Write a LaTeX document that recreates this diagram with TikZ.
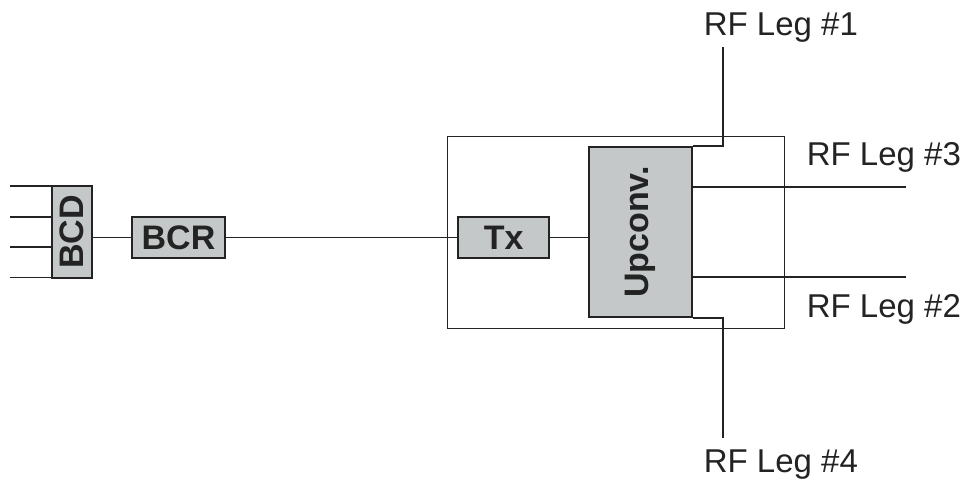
\documentclass[tikz,border=0pt]{standalone}
\usepackage{fontspec}
\setmainfont{Liberation Sans}
\definecolor{boxgray}{RGB}{196,200,200}
\definecolor{ink}{RGB}{35,35,35}
\begin{document}
\begin{tikzpicture}[x=1pt,y=-1pt,line width=1.7pt,draw=ink,
  blk/.style={draw=ink,fill=boxgray,inner sep=0pt,font=\fontsize{34}{40}\selectfont\bfseries,text=ink},
  lbl/.style={inner sep=0pt,anchor=base west,font=\fontsize{33}{38}\selectfont,text=ink}]
\useasboundingbox (0,0) rectangle (969,488);
\node[draw=ink,line width=1.3pt,minimum width=337pt,minimum height=191.6pt] (unit) at (615.8,232.5) {};
\node[blk,minimum width=40pt,minimum height=91.7pt] (bcd) at (72,231.8) {\rotatebox{90}{BCD}};
\node[blk,minimum width=93pt,minimum height=41pt] (bcr) at (178.5,237.5) {BCR};
\node[blk,minimum width=91pt,minimum height=40.4pt] (tx) at (503.8,237.5) {Tx};
\node[blk,minimum width=103pt,minimum height=170.6pt] (up) at (640.8,232) {\rotatebox{90}{Upconv.}};
\coordinate (in1) at (10,186);
\coordinate (in2) at (10,216.7);
\coordinate (in3) at (10,247);
\coordinate (in4) at (10,277.6);
\coordinate (leg1) at (722.7,46.7);
\coordinate (leg3) at (906,186.7);
\coordinate (leg2) at (906,277);
\coordinate (leg4) at (722.7,438.3);
\draw (in1) -- (in1 -| bcd.west);
\draw (in2) -- (in2 -| bcd.west);
\draw (in3) -- (in3 -| bcd.west);
\draw (in4) -- (in4 -| bcd.west);
\draw (bcd.east |- bcr.west) -- (bcr.west);
\draw (bcr.east) -- (tx.west);
\draw (tx.east) -- (tx.east -| up.west);
\draw (up.north east) -| (leg1);
\draw (leg3 -| up.east) -- (leg3);
\draw (leg2 -| up.east) -- (leg2);
\draw (up.south east) -| (leg4);
\node[lbl] (l1) at (703,35) {RF Leg \#1};
\node[lbl] (l3) at (806,165) {RF Leg \#3};
\node[lbl] (l2) at (806,317) {RF Leg \#2};
\node[lbl] (l4) at (703,472) {RF Leg \#4};
\end{tikzpicture}
\end{document}
